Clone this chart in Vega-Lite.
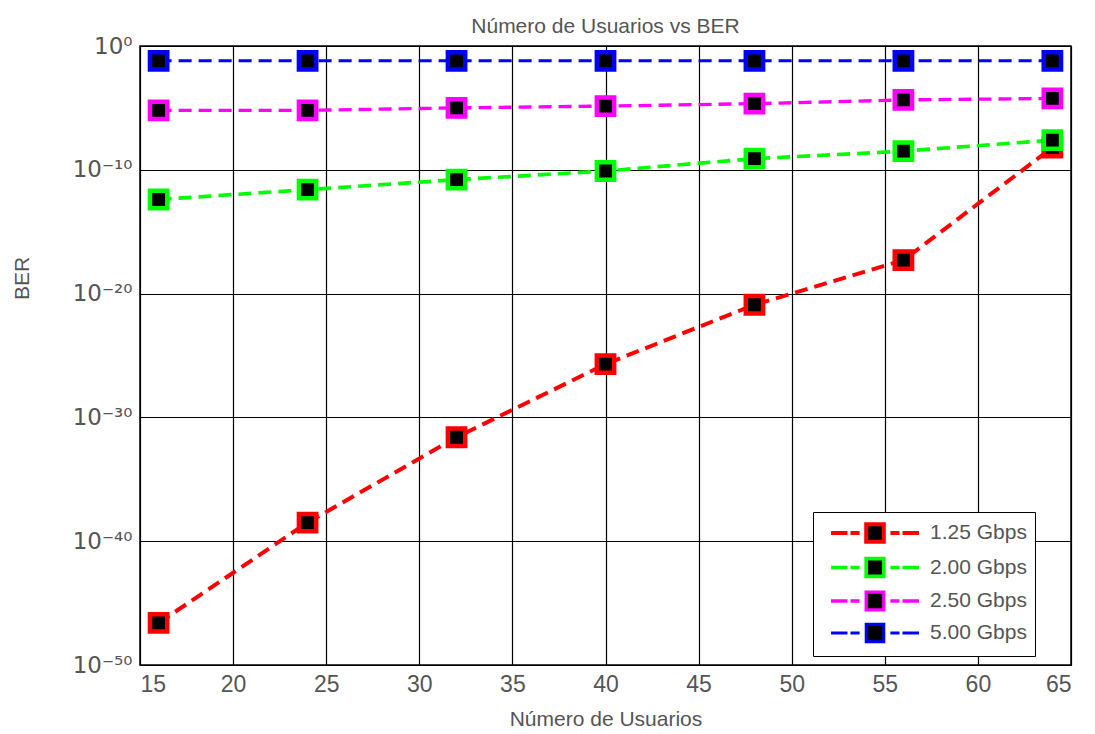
{
  "$schema": "https://vega.github.io/schema/vega-lite/v6.json",
  "autosize": "none",
  "width": 931,
  "height": 619,
  "padding": {"left": 140, "top": 46, "right": 24, "bottom": 69},
  "background": "white",
  "title": {"text": "Número de Usuarios vs BER", "fontSize": 21, "font": "Liberation Sans", "fontWeight": "normal", "color": "#555555", "offset": -2},
  "config": {
    "view": {"stroke": "black", "strokeWidth": 1.5},
    "font": "Liberation Sans"
  },
  "data": {"values": [
    {"users": 16, "ber": 2.5e-47, "rate": "1.25 Gbps"},
    {"users": 24, "ber": 3.2e-39, "rate": "1.25 Gbps"},
    {"users": 32, "ber": 2.5e-32, "rate": "1.25 Gbps"},
    {"users": 40, "ber": 2.0e-26, "rate": "1.25 Gbps"},
    {"users": 48, "ber": 1.26e-21, "rate": "1.25 Gbps"},
    {"users": 56, "ber": 5.0e-18, "rate": "1.25 Gbps"},
    {"users": 64, "ber": 6.3e-9, "rate": "1.25 Gbps"},
    {"users": 16, "ber": 4.0e-13, "rate": "2.00 Gbps"},
    {"users": 24, "ber": 2.5e-12, "rate": "2.00 Gbps"},
    {"users": 32, "ber": 1.6e-11, "rate": "2.00 Gbps"},
    {"users": 40, "ber": 8.0e-11, "rate": "2.00 Gbps"},
    {"users": 48, "ber": 8.0e-10, "rate": "2.00 Gbps"},
    {"users": 56, "ber": 3.2e-9, "rate": "2.00 Gbps"},
    {"users": 64, "ber": 2.5e-8, "rate": "2.00 Gbps"},
    {"users": 16, "ber": 6.3e-6, "rate": "2.50 Gbps"},
    {"users": 24, "ber": 6.3e-6, "rate": "2.50 Gbps"},
    {"users": 32, "ber": 1.0e-5, "rate": "2.50 Gbps"},
    {"users": 40, "ber": 1.4e-5, "rate": "2.50 Gbps"},
    {"users": 48, "ber": 2.2e-5, "rate": "2.50 Gbps"},
    {"users": 56, "ber": 4.4e-5, "rate": "2.50 Gbps"},
    {"users": 64, "ber": 5.8e-5, "rate": "2.50 Gbps"},
    {"users": 16, "ber": 0.063, "rate": "5.00 Gbps"},
    {"users": 24, "ber": 0.063, "rate": "5.00 Gbps"},
    {"users": 32, "ber": 0.063, "rate": "5.00 Gbps"},
    {"users": 40, "ber": 0.063, "rate": "5.00 Gbps"},
    {"users": 48, "ber": 0.063, "rate": "5.00 Gbps"},
    {"users": 56, "ber": 0.063, "rate": "5.00 Gbps"},
    {"users": 64, "ber": 0.063, "rate": "5.00 Gbps"}
  ]},
  "encoding": {
    "x": {
      "field": "users", "type": "quantitative",
      "scale": {"domain": [15, 65], "nice": false, "zero": false},
      "axis": {
        "values": [15, 20, 25, 30, 35, 40, 45, 50, 55, 60, 65],
        "grid": true, "gridColor": "black", "gridWidth": 1.2, "gridOpacity": 1,
        "domain": false, "ticks": false,
        "labelFontSize": 23, "labelColor": "#555555", "labelPadding": 8,
        "title": "Número de Usuarios", "titleFontSize": 21, "titleFontWeight": "normal",
        "titleColor": "#555555", "titlePadding": 12
      }
    },
    "y": {
      "field": "ber", "type": "quantitative",
      "scale": {"type": "log", "domain": [1e-50, 1], "nice": false},
      "axis": {
        "values": [1, 1e-10, 1e-20, 1e-30, 1e-40, 1e-50],
        "labelExpr": "datum.value > 0.5 ? '10⁰' : datum.value > 5e-11 ? '10⁻¹⁰' : datum.value > 5e-21 ? '10⁻²⁰' : datum.value > 5e-31 ? '10⁻³⁰' : datum.value > 5e-41 ? '10⁻⁴⁰' : '10⁻⁵⁰'",
        "grid": true, "gridColor": "black", "gridWidth": 1.2, "gridOpacity": 1,
        "domain": false, "ticks": false,
        "labelFont": "DejaVu Sans", "labelFontSize": 23, "labelColor": "#555555", "labelPadding": 8,
        "title": "BER", "titleFontSize": 21, "titleFontWeight": "normal", "titleColor": "#555555",
        "titleX": -118, "titleY": 232, "titleBaseline": "middle", "titleAngle": 270
      }
    }
  },
  "layer": [
    {
      "mark": {"type": "line", "strokeDash": [13, 7]},
      "encoding": {
        "color": {
          "field": "rate", "type": "nominal",
          "scale": {"domain": ["1.25 Gbps", "2.00 Gbps", "2.50 Gbps", "5.00 Gbps"], "range": ["#ff0000", "#00ff00", "#ff00ff", "#0000ff"]},
          "legend": {
            "orient": "none", "legendX": 673, "legendY": 466, "title": null,
            "symbolType": "M-4,0H-2.5M-2.23,0H-1.4M1.4,0H2.23M2.5,0H4M-0.8,-0.8H0.8V0.8H-0.8Z",
            "symbolSize": 484, "symbolStrokeWidth": 3.5, "symbolOffset": 41,
            "labelFontSize": 21, "labelColor": "#555555", "labelFont": "Liberation Sans",
            "labelExpr": "datum.label + '   '",
            "labelOffset": 42, "padding": 8, "rowPadding": 0.5,
            "strokeColor": "black", "fillColor": "white",
            "encode": {"symbols": {"update": {"fill": {"value": "black"}, "strokeDash": {"value": [1, 0]}, "opacity": {"value": 1}}}}
          }
        },
        "strokeWidth": {
          "field": "rate", "type": "nominal",
          "scale": {"domain": ["1.25 Gbps", "2.00 Gbps", "2.50 Gbps", "5.00 Gbps"], "range": [4, 3, 3, 5]},
          "legend": null
        }
      }
    },
    {
      "mark": {"type": "point", "shape": "square", "filled": true, "fill": "black", "size": 300, "strokeWidth": 4.5, "opacity": 1},
      "encoding": {
        "stroke": {
          "field": "rate", "type": "nominal",
          "scale": {"domain": ["1.25 Gbps", "2.00 Gbps", "2.50 Gbps", "5.00 Gbps"], "range": ["#ff0000", "#00ff00", "#ff00ff", "#0000ff"]},
          "legend": null
        }
      }
    }
  ]
}
